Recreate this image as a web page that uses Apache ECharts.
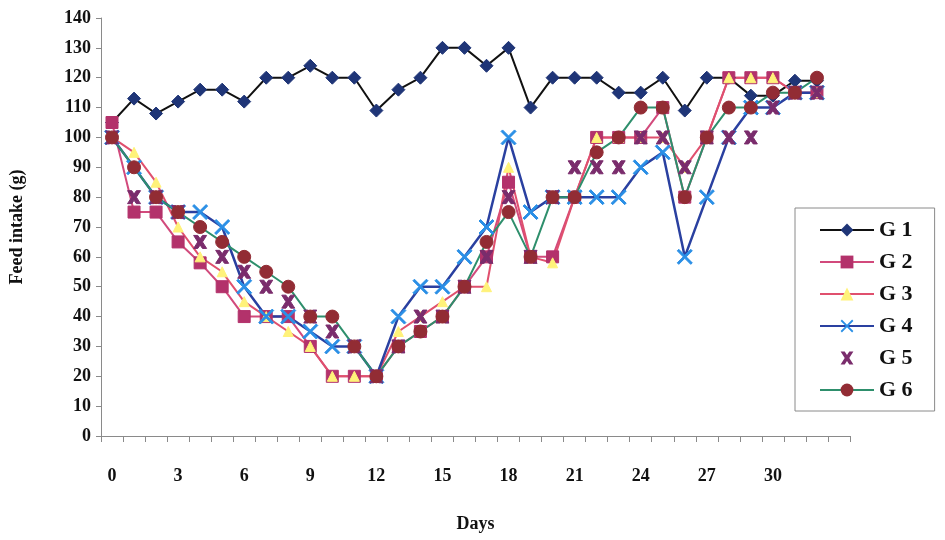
<!DOCTYPE html>
<html>
<head>
<meta charset="utf-8">
<script src="https://cdn.jsdelivr.net/npm/echarts@6/dist/echarts.min.js"></script>
<style>html,body{margin:0;padding:0;background:#fff}#c{width:945px;height:540px}</style>
</head>
<body>
<div id="c"></div>
<script>
// Categories (days) and labelled ticks
const days = ['0','1','2','3','4','5','6','7','8','9','10','11','12','13','14','15','16','17','18','19','20','21','22','23','24','25','26','27','28','29','30','31','32','33'];
const shownDayLabels = ['0','3','6','9','12','15','18','21','24','27','30'];

// Series values (day 0 .. day 32)
const G1 = [105,113,108,112,116,116,112,120,120,124,120,120,109,116,120,130,130,124,130,110,120,120,120,115,115,120,109,120,120,114,114,119,119];
const G2 = [105,75,75,65,58,50,40,40,40,30,20,20,20,30,35,40,50,60,85,60,60,80,100,100,100,110,80,100,120,120,120,115,115];
const G3 = [100,95,85,70,60,55,45,40,35,30,20,20,20,35,40,45,50,50,90,60,58,80,100,100,100,100,90,100,120,120,120,115,115];
const G4 = [100,90,80,75,75,70,50,40,40,35,30,30,20,40,50,50,60,70,100,75,80,80,80,80,90,95,60,80,100,110,110,115,115];
const G5 = [100,80,80,75,65,60,55,50,45,40,35,30,20,30,40,40,50,60,80,60,80,90,90,90,100,100,90,100,100,100,110,115,115];
const G6 = [100,90,80,75,70,65,60,55,50,40,40,30,20,30,35,40,50,65,75,60,80,80,95,100,110,110,80,100,110,110,115,115,120];

const FONT = '"Liberation Serif", "Times New Roman", serif';
const X_THIN = 'path://M1,0 L5,4 L9,0 L10,1 L6,5 L10,9 L9,10 L5,6 L1,10 L0,9 L4,5 L0,1 Z';
const X_THICK = 'path://M0,0 L3.2,0 L5,2.6 L6.8,0 L10,0 L6.8,5 L10,10 L6.8,10 L5,7.4 L3.2,10 L0,10 L3.2,5 Z';

const common = { type: 'line', showAllSymbol: true, showSymbol: true };

const chart = echarts.init(document.getElementById('c'));
chart.setOption({
  backgroundColor: '#ffffff',
  animation: false,
  grid: { left: 101, right: 95, top: 18, bottom: 104, containLabel: false },
  xAxis: {
    type: 'category',
    data: days,
    boundaryGap: true,
    name: 'Days',
    nameLocation: 'middle',
    nameGap: 79,
    nameTextStyle: { fontFamily: FONT, fontWeight: 'bold', fontSize: 18, color: '#111' },
    axisLine: { lineStyle: { color: '#8a8a8a', width: 1 } },
    axisTick: { show: true, interval: 0, length: 6, lineStyle: { color: '#8a8a8a' } },
    axisLabel: {
      interval: (idx, val) => shownDayLabels.indexOf(val) >= 0,
      formatter: v => shownDayLabels.indexOf(v) >= 0 ? v : '',
      margin: 31,
      fontFamily: FONT, fontWeight: 'bold', fontSize: 18, color: '#111'
    },
    splitLine: { show: false }
  },
  yAxis: {
    type: 'value',
    min: 0, max: 140, interval: 10,
    name: 'Feed intake (g)',
    nameLocation: 'middle',
    nameGap: 75,
    nameTextStyle: { fontFamily: FONT, fontWeight: 'bold', fontSize: 18, color: '#111' },
    axisLine: { show: true, lineStyle: { color: '#8a8a8a', width: 1 } },
    axisTick: { show: true, length: 5, lineStyle: { color: '#8a8a8a' } },
    axisLabel: { margin: 10, fontFamily: FONT, fontWeight: 'bold', fontSize: 18, color: '#111' },
    splitLine: { show: false }
  },
  legend: {
    orient: 'vertical',
    left: 795, top: 208,
    width: 147,
    padding: [11, 22, 10, 24],
    itemGap: 10,
    itemWidth: 54, itemHeight: 16,
    backgroundColor: '#ffffff',
    borderColor: '#8a8a8a', borderWidth: 1,
    textStyle: { fontFamily: FONT, fontWeight: 'bold', fontSize: 22, color: '#111', padding: [0, 0, 0, 0] },
    data: ['G 1','G 2','G 3','G 4','G 5','G 6']
  },
  series: [
    Object.assign({ name: 'G 1', data: G1, symbol: 'diamond', symbolSize: 13,
      lineStyle: { color: '#111111', width: 2 }, itemStyle: { color: '#1f3577', borderColor: '#1f3577' } }, common),
    Object.assign({ name: 'G 2', data: G2, symbol: 'rect', symbolSize: 12,
      lineStyle: { color: '#d24a7c', width: 2 }, itemStyle: { color: '#b3326b', borderColor: '#b3326b' } }, common),
    Object.assign({ name: 'G 3', data: G3, symbol: 'triangle', symbolSize: 10,
      lineStyle: { color: '#e0506e', width: 2 }, itemStyle: { color: '#fff27a', borderColor: '#fff27a' } }, common),
    Object.assign({ name: 'G 4', data: G4, symbol: X_THIN, symbolSize: 15,
      lineStyle: { color: '#2a40a0', width: 2.5 }, itemStyle: { color: '#2a8fe6', borderColor: '#2a8fe6' } }, common),
    Object.assign({ name: 'G 5', data: G5, symbol: X_THICK, symbolSize: 13,
      lineStyle: { width: 0, opacity: 0 }, itemStyle: { color: '#7a2c6c', borderColor: '#7a2c6c' } }, common),
    Object.assign({ name: 'G 6', data: G6, symbol: 'circle', symbolSize: 13,
      lineStyle: { color: '#2e8f6c', width: 2 }, itemStyle: { color: '#922c34', borderColor: '#922c34' } }, common)
  ]
});
</script>
</body>
</html>
